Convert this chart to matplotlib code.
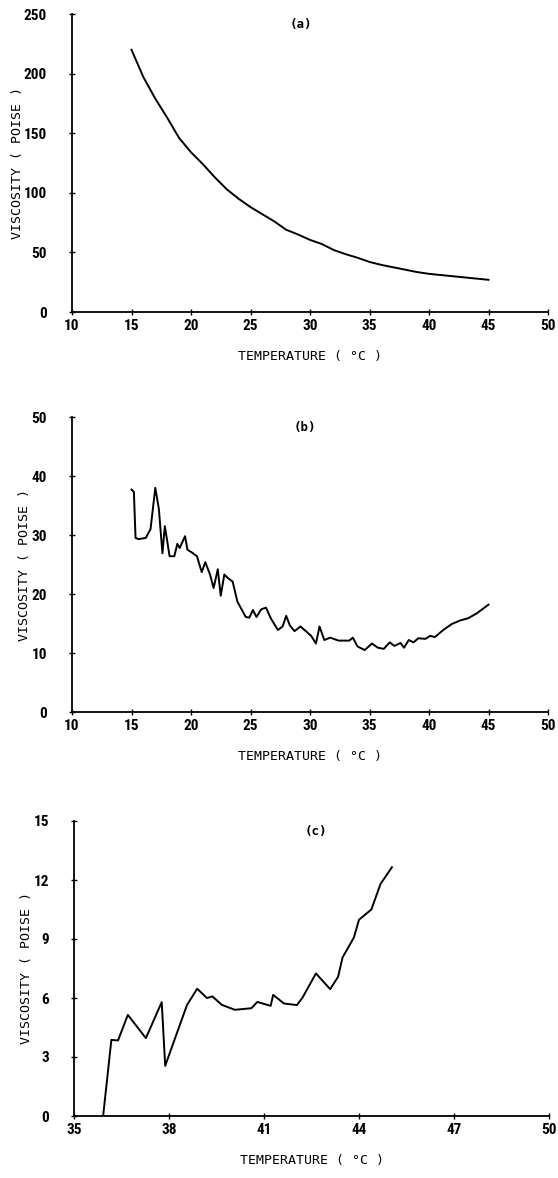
import numpy as np
import matplotlib.pyplot as plt

plt.rcParams['font.family'] = ['Roboto Condensed', 'Liberation Sans Narrow', 'DejaVu Sans Mono']
plt.rcParams['font.weight'] = 'bold'
LABEL_FONT = ['DejaVu Sans Mono']

# (a) viscosity vs temperature, smooth decay
temp_a = [15, 16, 17, 18, 19, 20, 21, 22, 23, 24, 25, 26, 27, 28, 29, 30,
          31, 32, 33, 34, 35, 36, 37, 38, 39, 40, 41, 42, 43, 44, 45]
visc_a = [220, 197, 179, 163, 146, 134, 124, 113, 103, 95, 88, 82, 76, 69, 65, 60.5,
          57, 52, 48.5, 45.5, 42, 39.5, 37.5, 35.5, 33.5, 32, 31, 30, 29, 28, 27]

# (b) noisy curve with a minimum near 35 C
temp_b = [15.0, 15.2, 15.34, 15.6, 16.2, 16.6, 17.0, 17.3, 17.6, 17.8, 18.0,
          18.2, 18.6, 18.85, 19.05, 19.5, 19.7, 20.1, 20.5, 20.9, 21.2, 21.6,
          21.9, 22.25, 22.5, 22.8, 23.1, 23.5, 23.9, 24.6, 24.9, 25.2, 25.5,
          25.9, 26.3, 26.7, 27.3, 27.7, 28.0, 28.3, 28.7, 29.2, 29.6, 30.1,
          30.5, 30.8, 31.2, 31.7, 32.4, 33.3, 33.6, 34.0, 34.6, 35.2, 35.7,
          36.2, 36.7, 37.1, 37.6, 37.9, 38.3, 38.7, 39.1, 39.7, 40.1, 40.5,
          41.2, 41.9, 42.6, 43.3, 44.0, 45.0]
visc_b = [37.7, 37.3, 29.5, 29.3, 29.5, 31.0, 38.0, 34.4, 26.9, 31.5, 29.0,
          26.4, 26.4, 28.5, 27.8, 29.8, 27.5, 27.0, 26.4, 23.7, 25.4, 23.3,
          21.0, 24.2, 19.7, 23.3, 22.7, 22.1, 18.7, 16.1, 16.0, 17.3, 16.1,
          17.4, 17.7, 15.9, 13.9, 14.5, 16.3, 14.7, 13.7, 14.5, 13.8, 12.9,
          11.6, 14.5, 12.2, 12.6, 12.1, 12.1, 12.6, 11.1, 10.5, 11.6, 10.9,
          10.7, 11.8, 11.2, 11.7, 10.9, 12.2, 11.8, 12.5, 12.4, 12.9, 12.7,
          13.9, 14.9, 15.5, 15.9, 16.7, 18.2]

# (c) 36-45 C
temp_c = [35.92, 36.18, 36.39, 36.70, 37.27, 37.77, 37.88, 38.21, 38.57,
          38.89, 39.2, 39.37, 39.67, 40.08, 40.6, 40.79, 41.21, 41.29, 41.63,
          42.04, 42.22, 42.64, 43.09, 43.34, 43.48, 43.84, 44.0, 44.39,
          44.68, 45.04]
visc_c = [0, 3.87, 3.84, 5.14, 3.96, 5.79, 2.55, 4.04, 5.65, 6.47, 6.0,
          6.08, 5.65, 5.4, 5.48, 5.8, 5.6, 6.16, 5.72, 5.64, 6.03, 7.25,
          6.45, 7.08, 8.06, 9.08, 9.98, 10.5, 11.8, 12.65]

W, H = 558, 1178
fig = plt.figure(figsize=(W / 100, H / 100), dpi=100)


def make_axes(left, right, top, bottom):
    return fig.add_axes([left / W, 1 - bottom / H, (right - left) / W, (bottom - top) / H])


panels = [
    (make_axes(72, 548, 14, 312), temp_a, visc_a, (10, 50), np.arange(10, 51, 5),
     (0, 250), np.arange(0, 251, 50), '(a)', 0.48),
    (make_axes(72, 548, 417, 712), temp_b, visc_b, (10, 50), np.arange(10, 51, 5),
     (0, 50), np.arange(0, 51, 10), '(b)', 0.49),
    (make_axes(74, 549, 821, 1116), temp_c, visc_c, (35, 50), np.arange(35, 51, 3),
     (0, 15), np.arange(0, 16, 3), '(c)', 0.51),
]

for ax, x, y, xlim, xt, ylim, yt, tag, tx in panels:
    ax.plot(x, y, color='black', lw=1.4)
    ax.set_xlim(*xlim)
    ax.set_ylim(*ylim)
    ax.set_xticks(xt)
    ax.set_yticks(yt)
    for s in ['top', 'right']:
        ax.spines[s].set_visible(False)
    for s in ['left', 'bottom']:
        ax.spines[s].set_linewidth(1.3)
    ax.tick_params(direction='inout', length=4, width=1, labelsize=11)
    ax.tick_params(axis='x', pad=3)
    ax.tick_params(axis='y', pad=16)
    ax.set_xlabel('TEMPERATURE ( °C )', fontsize=9.5, labelpad=12, family=LABEL_FONT)
    ax.set_ylabel('VISCOSITY ( POISE )', fontsize=9.5, labelpad=0, family=LABEL_FONT)
    ax.text(tx, 0.985, tag, transform=ax.transAxes, ha='center', va='top',
            fontsize=9, family=LABEL_FONT)

fig.savefig('out.png', dpi=100)
